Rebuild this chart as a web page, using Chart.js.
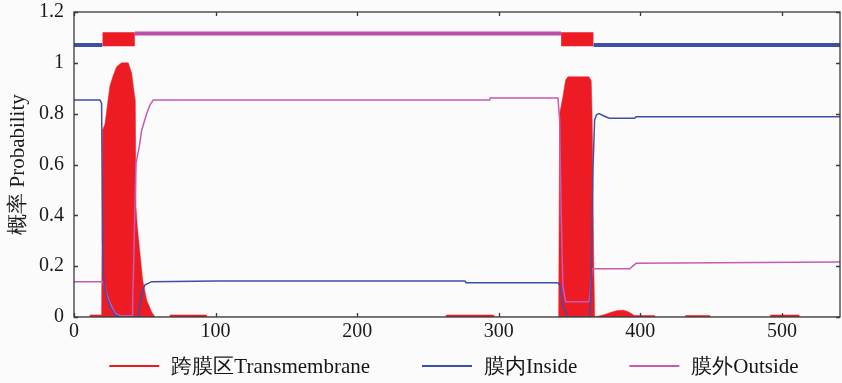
<!DOCTYPE html>
<html>
<head>
<meta charset="utf-8">
<script src="https://cdn.jsdelivr.net/npm/chart.js@4"></script>
<style>
  html, body { margin: 0; padding: 0; background: #fbfbfb; }
  #wrap { width: 842px; height: 383px; }
</style>
</head>
<body>
<div id="wrap"><canvas id="chart" width="842" height="383"></canvas></div>
<script>
// posterior probabilities (residue -> probability)
const tmRes = [0, 11, 11.3, 19.5, 20.2, 21.9, 24.2, 25.4, 27.7, 30.1, 33.6, 38.3, 40.7, 42.3, 43.3, 43.8, 44.7, 46.6, 48.5, 51.3, 54.8, 57.2,
  67.5, 67.8, 93.6, 94, 262.5, 263, 296, 296.5, 342.3, 343, 345.3, 347.2, 348.8, 363.7, 365.3, 366, 367, 367.7,
  372.4, 376, 380, 384, 388, 391, 394.8, 395.5, 410, 410.5, 431.5, 432, 449, 449.5, 491.5, 492, 512, 512.5, 541];
const tmProb = [0, 0, 0.008, 0.008, 0.735, 0.76, 0.86, 0.91, 0.95, 0.985, 1.0, 1.0, 0.96, 0.89, 0.85, 0.43, 0.355, 0.25, 0.145, 0.067, 0.02, 0,
  0, 0.008, 0.008, 0, 0, 0.008, 0.008, 0, 0, 0.8, 0.867, 0.932, 0.945, 0.945, 0.93, 0.775, 0.25, 0,
  0.006, 0.012, 0.02, 0.026, 0.027, 0.022, 0.01, 0.006, 0.006, 0, 0, 0.006, 0.006, 0, 0, 0.008, 0.008, 0, 0];

const inRes = [0, 18.3, 19.5, 20.2, 21.2, 23, 25.4, 29, 32.5, 45.4, 47.8, 50, 54.8, 100, 276, 277, 341.8, 343.5, 345.3, 348.8,
  364.2, 365.3, 366.5, 367.7, 368.9, 370.7, 374.7, 378, 396, 397, 541];
const inProb = [0.854, 0.854, 0.84, 0.29, 0.134, 0.08, 0.04, 0.008, 0, 0, 0.094, 0.126, 0.139, 0.142, 0.142, 0.135, 0.135, 0.12, 0.04, 0,
  0, 0.13, 0.578, 0.775, 0.795, 0.8, 0.79, 0.782, 0.782, 0.788, 0.788];

const outRes = [0, 20.2, 21.9, 23, 25.4, 29, 32.5, 41, 41.4, 42.3, 43, 43.8, 46.1, 47.8, 51.3, 53.6, 56, 293.6, 294, 341.8,
  343, 343.5, 344.2, 345.3, 347.2, 363.7, 364.6, 366, 392.4, 397, 541];
const outProb = [0.139, 0.139, 0.12, 0.09, 0.055, 0.015, 0.005, 0.005, 0.055, 0.25, 0.43, 0.605, 0.67, 0.735, 0.8, 0.834, 0.854, 0.854, 0.862, 0.862,
  0.775, 0.6, 0.38, 0.12, 0.06, 0.06, 0.093, 0.19, 0.19, 0.211, 0.216];

// predicted topology along the top of the plot
const insideSegs = [[0, 20], [367, 541]];
const outsideSegs = [[43, 344]];
const tmSegs = [[20, 43], [344, 367]];
const insideLevel = 1.07;
const outsideLevel = 1.115;
const tmBoxTop = 1.12;
const tmBoxBottom = 1.065;

const xTicksMax = 541;
const legendLabels = ['跨膜区Transmembrane', '膜内Inside', '膜外Outside'];

const RED = '#ed1c24';
const BLUE = '#3f4fa6';
const MAGENTA = '#c65ab4';
const SERIF = '"Liberation Serif", "Times New Roman", serif';

const toPts = (xs, ys) => xs.map((x, i) => ({ x: x, y: ys[i] }));
const segPts = (segs, level) => {
  const pts = [];
  segs.forEach((s, i) => {
    if (i > 0) pts.push({ x: s[0], y: null });
    pts.push({ x: s[0], y: level }, { x: s[1], y: level });
  });
  return pts;
};

const framePlugin = {
  id: 'frame',
  beforeDraw(chart) {
    const ctx = chart.ctx;
    ctx.save();
    ctx.fillStyle = '#fbfbfb';
    ctx.fillRect(0, 0, chart.width, chart.height);
    ctx.restore();
  },
  afterDraw(chart) {
    const { ctx, chartArea: a, scales } = chart;
    const x = scales.x, y = scales.y;
    ctx.save();
    ctx.strokeStyle = '#3a3a3a';
    ctx.lineWidth = 1.3;
    ctx.strokeRect(a.left, a.top, a.right - a.left, a.bottom - a.top);
    ctx.beginPath();
    x.ticks.forEach(t => {
      const px = Math.round(x.getPixelForValue(t.value)) + 0.5;
      ctx.moveTo(px, a.bottom); ctx.lineTo(px, a.bottom - 4);
      ctx.moveTo(px, a.top); ctx.lineTo(px, a.top + 4);
    });
    y.ticks.forEach(t => {
      const py = Math.round(y.getPixelForValue(t.value)) + 0.5;
      ctx.moveTo(a.left, py); ctx.lineTo(a.left + 4, py);
      ctx.moveTo(a.right, py); ctx.lineTo(a.right - 4, py);
    });
    ctx.stroke();

    // legend under the axis
    const colors = [RED, BLUE, MAGENTA];
    ctx.font = '21px ' + SERIF;
    const lineLen = 50, gap = 12, itemGap = 52;
    const widths = legendLabels.map(l => ctx.measureText(l).width);
    const total = widths.reduce((s, w) => s + w + lineLen + gap, 0) + itemGap * (legendLabels.length - 1);
    let lx = (a.left + a.right) / 2 - total / 2 - 3;
    const ly = 366;
    ctx.textBaseline = 'middle';
    ctx.fillStyle = '#151515';
    legendLabels.forEach((l, i) => {
      ctx.strokeStyle = colors[i];
      ctx.lineWidth = 2;
      ctx.beginPath();
      ctx.moveTo(lx, ly); ctx.lineTo(lx + lineLen, ly);
      ctx.stroke();
      ctx.fillText(l, lx + lineLen + gap, ly + 1);
      lx += lineLen + gap + widths[i] + itemGap;
    });
    ctx.restore();
  }
};

const ctx = document.getElementById('chart').getContext('2d');
new Chart(ctx, {
  type: 'line',
  data: {
    datasets: [
      {
        label: legendLabels[1],
        data: toPts(inRes, inProb),
        borderColor: BLUE, borderWidth: 1.5, pointRadius: 0, order: 1
      },
      {
        label: legendLabels[2],
        data: toPts(outRes, outProb),
        borderColor: MAGENTA, borderWidth: 1.5, pointRadius: 0, order: 1
      },
      {
        label: legendLabels[0],
        data: toPts(tmRes, tmProb),
        borderColor: RED, borderWidth: 0.5, backgroundColor: RED,
        fill: 'origin', pointRadius: 0, order: 3
      },
      {
        label: 'inside-top',
        data: segPts(insideSegs, insideLevel),
        borderColor: BLUE, borderWidth: 4, pointRadius: 0, spanGaps: false, order: 2
      },
      {
        label: 'outside-top',
        data: segPts(outsideSegs, outsideLevel),
        borderColor: '#b94fa3', borderWidth: 4, pointRadius: 0, spanGaps: false, order: 2
      },
      {
        label: 'tm-top',
        data: segPts(tmSegs, tmBoxTop),
        borderColor: RED, borderWidth: 0, backgroundColor: RED,
        fill: { value: tmBoxBottom }, pointRadius: 0, spanGaps: false, order: 2
      }
    ]
  },
  options: {
    responsive: false,
    animation: false,
    layout: { padding: { top: 12, right: 2, left: 0, bottom: 0 } },
    plugins: {
      legend: { display: false },
      tooltip: { enabled: false }
    },
    scales: {
      x: {
        type: 'linear',
        min: 0,
        max: xTicksMax,
        grid: { display: false, drawTicks: false },
        border: { display: false },
        ticks: {
          stepSize: 100, includeBounds: false, padding: 3, maxRotation: 0,
          color: '#1a1a1a', font: { family: SERIF, size: 20 }
        },
        afterFit: s => { s.height = 66; s.paddingLeft = 0; s.paddingRight = 0; }
      },
      y: {
        min: 0,
        max: 1.2,
        grid: { display: false, drawTicks: false },
        border: { display: false },
        ticks: {
          stepSize: 0.2, padding: 10,
          color: '#1a1a1a', font: { family: SERIF, size: 20 },
          callback: v => String(+v.toFixed(1))
        },
        title: {
          display: true, text: '概率 Probability', color: '#1a1a1a',
          font: { family: SERIF, size: 21 }, padding: { top: 6, bottom: 0 }
        },
        afterFit: s => { s.width = 74; s.paddingTop = 0; s.paddingBottom = 0; }
      }
    }
  },
  plugins: [framePlugin]
});
</script>
</body>
</html>
